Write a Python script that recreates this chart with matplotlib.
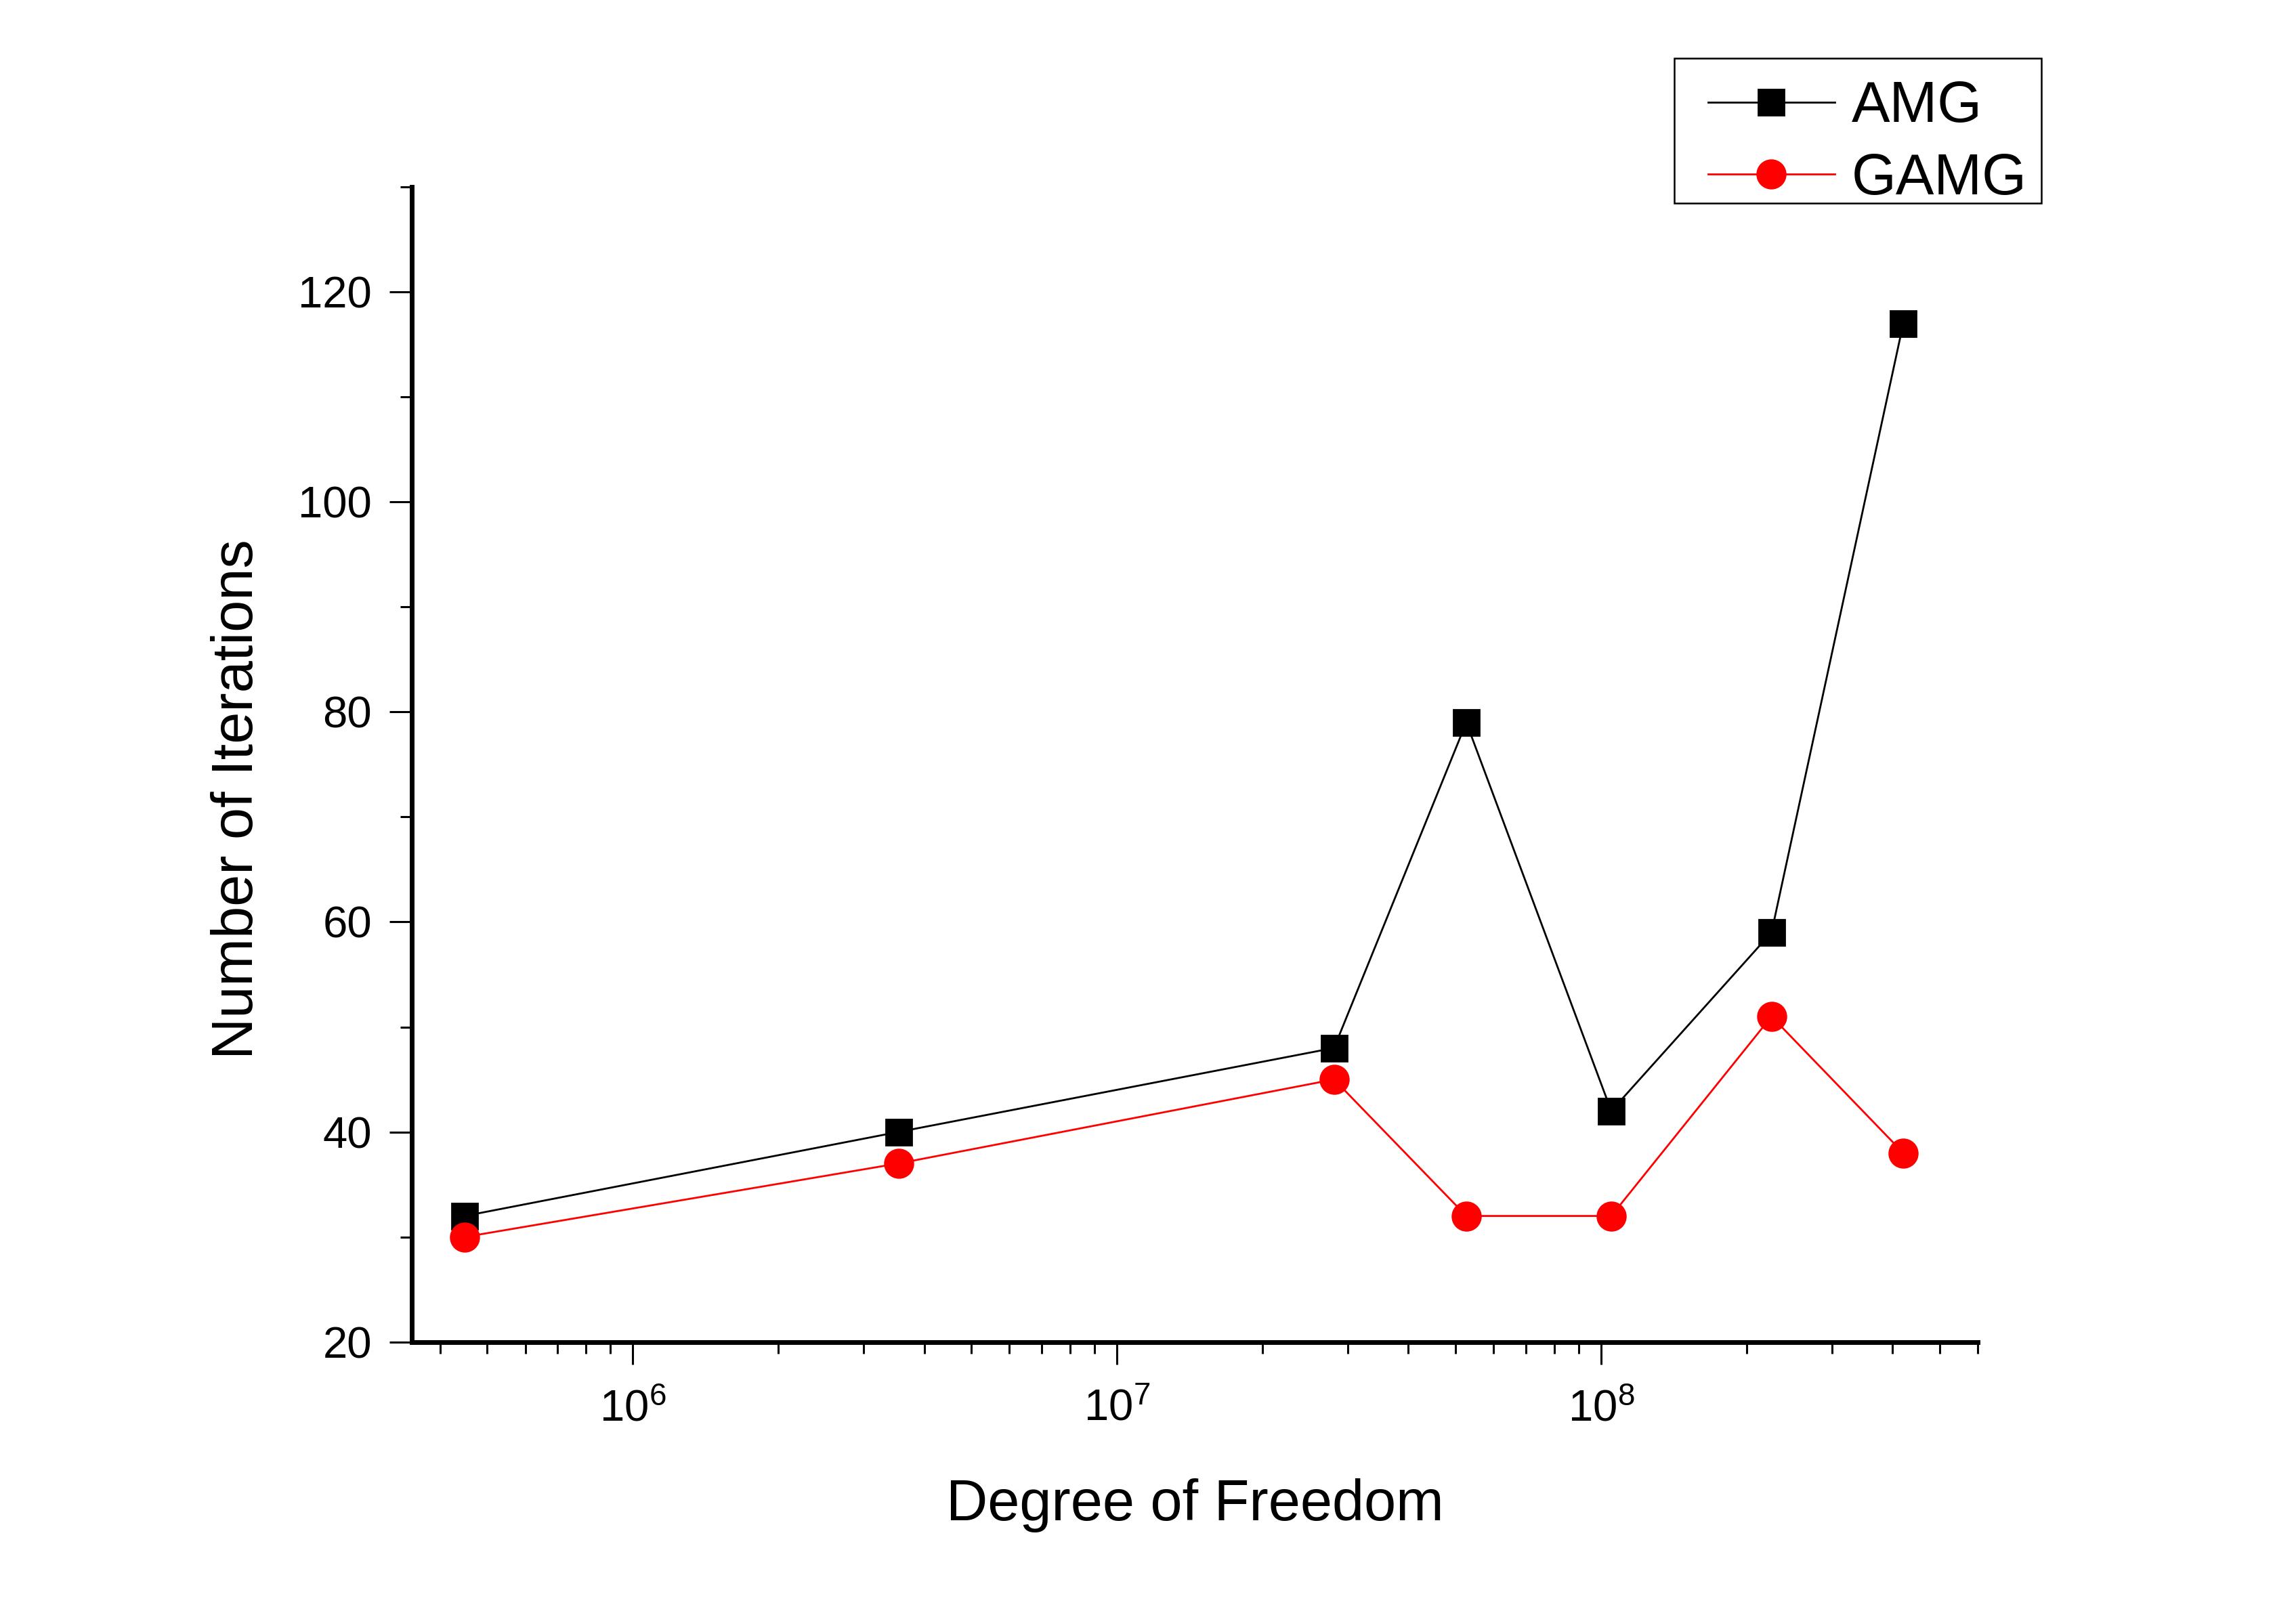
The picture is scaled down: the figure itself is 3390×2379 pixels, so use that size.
import numpy as np
import matplotlib.pyplot as plt
from matplotlib.patches import Rectangle
from matplotlib.ticker import MultipleLocator, LogLocator, NullFormatter

plt.rcParams['font.family'] = ['Liberation Sans', 'DejaVu Sans']
plt.rcParams['mathtext.fontset'] = 'custom'
plt.rcParams['mathtext.rm'] = 'Liberation Sans'
plt.rcParams['mathtext.it'] = 'Liberation Sans'
plt.rcParams['mathtext.default'] = 'regular'

# data
dof = [4.50e5, 3.54e6, 2.81e7, 5.27e7, 1.05e8, 2.25e8, 4.21e8]
amg_iters = [32, 40, 48, 79, 42, 59, 117]
gamg_iters = [30, 37, 45, 32, 32, 51, 38]

fig = plt.figure(figsize=(16.95, 11.895), dpi=200)
ax = fig.add_axes([0.1794, 0.167, 0.682, 0.717])

ax.plot(dof, amg_iters, color='black', lw=1.0, marker='s', markersize=13.7,
        label='AMG')
ax.plot(dof, gamg_iters, color='red', lw=1.0, marker='o', markersize=15,
        label='GAMG')

ax.set_xscale('log')
ax.set_xlim(3.5e5, 6e8)
ax.set_ylim(20, 130)
ax.yaxis.set_major_locator(MultipleLocator(20))
ax.yaxis.set_minor_locator(MultipleLocator(10))
ax.xaxis.set_minor_locator(LogLocator(base=10, subs=np.arange(2, 10)))
ax.xaxis.set_minor_formatter(NullFormatter())

for side in ['top', 'right']:
    ax.spines[side].set_visible(False)
for side in ['left', 'bottom']:
    ax.spines[side].set_linewidth(2.5)

ax.tick_params(which='major', direction='out', length=12, width=1.1,
               labelsize=23.5)
ax.tick_params(which='minor', direction='out', length=6, width=1.1)
ax.tick_params(axis='x', which='major', pad=13)
ax.tick_params(axis='y', which='major', pad=9.3)

ax.set_xlabel('Degree of Freedom', fontsize=30.5, va='top')
ax.set_ylabel('Number of Iterations', fontsize=30.5)
ax.xaxis.set_label_coords(0.5, -0.118)
ax.yaxis.set_label_coords(-0.094, 0.47)

# legend entries without frame, box drawn separately
leg = fig.legend(loc='upper left', bbox_to_anchor=(0.744, 0.9502),
                 bbox_transform=fig.transFigure, fontsize=30.5, frameon=False,
                 borderpad=0, handlelength=2.2, handletextpad=0.3,
                 labelspacing=0.31, borderaxespad=0)
fig.patches.append(Rectangle((0.7292, 0.8739), 0.8891 - 0.7292, 0.9639 - 0.8739,
                             transform=fig.transFigure, fill=False,
                             edgecolor='black', linewidth=0.9))

plt.savefig('out.png', dpi=200)
